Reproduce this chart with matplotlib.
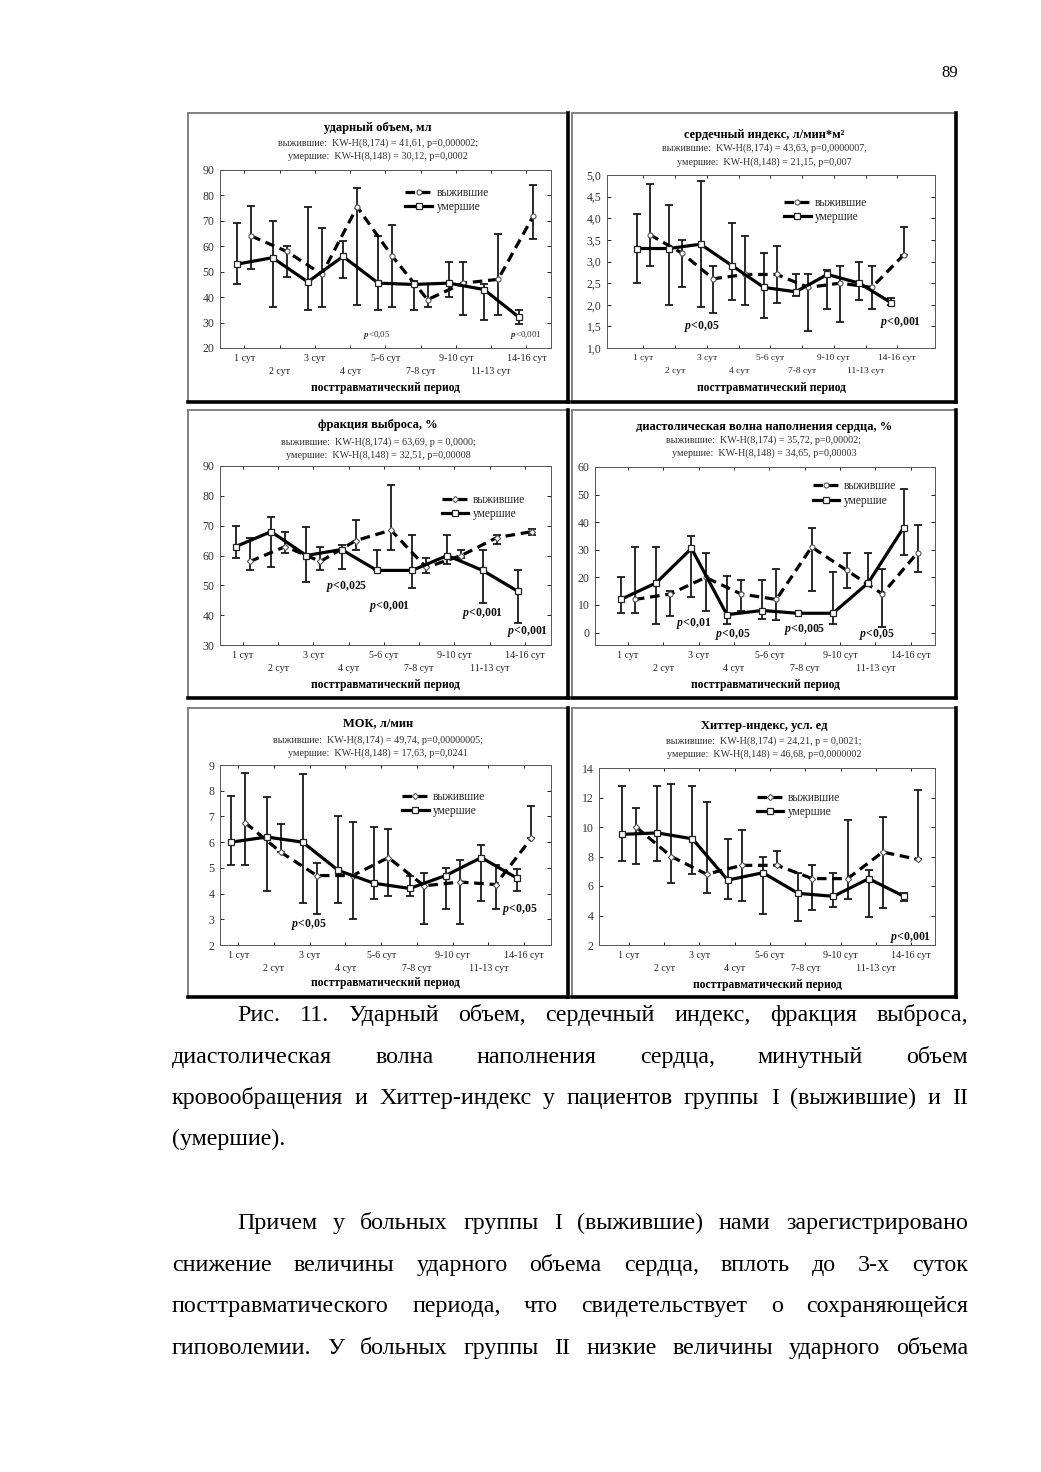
import numpy as np
import matplotlib
matplotlib.use('Agg')
import matplotlib.pyplot as plt
from matplotlib.patches import Rectangle
from matplotlib.lines import Line2D
from matplotlib.ticker import FuncFormatter

plt.rcParams['font.family'] = ['Liberation Serif', 'DejaVu Serif']
plt.rcParams['mathtext.fontset'] = 'custom'
plt.rcParams['mathtext.it'] = 'Liberation Serif:italic:bold'
plt.rcParams['mathtext.rm'] = 'Liberation Serif'

W, H = 1041, 1472

periods = ['1 сут', '2 сут', '3 сут', '4 сут', '5-6 сут', '7-8 сут',
           '9-10 сут', '11-13 сут', '14-16 сут']

# ударный объем, мл
uo_surv = [64, 58, 49, 75.5, 56, 39, 45.5, 47, 72]
uo_surv_lo = [51, 48, 36, 37, 36, 36, 33, 33, 63]
uo_surv_hi = [76, 60, 67, 83, 68.5, 45, 54, 65, 84]
uo_dead = [53, 55.5, 46, 56, 45.5, 45, 45.5, 43, 32]
uo_dead_lo = [45, 36, 35, 47.5, 35, 35, 40, 31, 29.5]
uo_dead_hi = [69, 70, 75.5, 62, 64, 46.5, 54, 45, 35]

# сердечный индекс
si_surv = [3.62, 3.2, 2.6, 2.7, 2.7, 2.4, 2.5, 2.4, 3.15]
si_surv_lo = [2.9, 2.4, 1.8, 2.0, 2.05, 1.4, 1.6, 1.9, 3.15]
si_surv_hi = [4.8, 3.5, 2.9, 3.6, 3.35, 2.7, 2.9, 2.9, 3.8]
si_dead = [3.3, 3.3, 3.4, 2.9, 2.4, 2.3, 2.7, 2.5, 2.05]
si_dead_lo = [2.5, 2.0, 1.95, 2.1, 1.7, 2.2, 1.9, 2.1, 2.0]
si_dead_hi = [4.1, 4.3, 4.85, 3.9, 3.2, 2.7, 2.8, 3.0, 2.15]

# фракция выброса
fv_surv = [58, 63, 58, 65, 68.5, 56, 60, 66, 68]
fv_surv_lo = [55, 61, 55, 62, 62, 54, 59, 64, 67]
fv_surv_hi = [66, 68, 63, 72, 83.5, 59, 62, 67, 69]
fv_dead = [63, 68, 60, 62, 55, 55, 60, 55, 48]
fv_dead_lo = [59, 56, 51, 55.5, 55, 49, 57, 44, 37.5]
fv_dead_hi = [70, 73, 69.5, 63.5, 62, 67, 67, 62, 55]

# диастолическая волна наполнения
dv_surv = [12, 14, 20, 14, 12, 31, 22.5, 14, 29]
dv_surv_lo = [7, 6, 8, 8, 4.5, 15, 16, 2, 22]
dv_surv_hi = [31, 15, 29, 19, 23, 38, 29, 23, 39]
dv_dead = [12, 18, 30.5, 6.5, 8, 7, 7, 18, 38]
dv_dead_lo = [7, 3, 13, 3, 5, 7, 3, 18, 28]
dv_dead_hi = [20, 31, 35, 20.5, 19, 7, 22, 29, 52]

# МОК
mok_surv = [6.75, 5.6, 4.7, 4.7, 5.4, 4.3, 4.45, 4.35, 6.15]
mok_surv_lo = [5.1, 5.6, 3.2, 3.0, 3.9, 2.8, 2.8, 3.4, 6.15]
mok_surv_hi = [8.7, 6.7, 5.2, 6.8, 6.5, 4.8, 5.3, 5.1, 7.4]
mok_dead = [6.0, 6.2, 6.0, 4.9, 4.4, 4.2, 4.7, 5.4, 4.6]
mok_dead_lo = [5.1, 4.1, 3.65, 3.65, 3.8, 3.9, 3.4, 3.7, 4.1]
mok_dead_hi = [7.8, 7.75, 8.65, 7.0, 6.6, 4.7, 5.0, 5.9, 4.95]

# Хиттер-индекс
hi_surv = [10.0, 8.0, 6.8, 7.4, 7.4, 6.5, 6.5, 8.3, 7.8]
hi_surv_lo = [7.5, 6.2, 5.5, 5.0, 7.4, 4.4, 5.1, 4.5, 7.8]
hi_surv_hi = [11.3, 12.9, 11.7, 9.8, 8.4, 7.4, 10.5, 10.7, 12.5]
hi_dead = [9.5, 9.6, 9.2, 6.4, 6.9, 5.5, 5.3, 6.5, 5.3]
hi_dead_lo = [7.7, 7.7, 6.8, 5.1, 4.1, 3.6, 4.6, 3.9, 5.0]
hi_dead_hi = [12.8, 12.8, 12.8, 9.2, 8.0, 6.9, 6.9, 7.1, 5.5]

titles = ['ударный объем, мл', 'сердечный индекс, л/мин*м²', 'фракция выброса, %',
          'диастолическая волна наполнения сердца, %', 'МОК, л/мин', 'Хиттер-индекс, усл. ед']
kw_surv = ['выжившие:  KW-H(8,174) = 41,61, p=0,000002;',
           'выжившие:  KW-H(8,174) = 43,63, p=0,0000007,',
           'выжившие:  KW-H(8,174) = 63,69, p = 0,0000;',
           'выжившие:  KW-H(8,174) = 35,72, p=0,00002;',
           'выжившие:  KW-H(8,174) = 49,74, p=0,00000005;',
           'выжившие:  KW-H(8,174) = 24,21, p = 0,0021;']
kw_dead = ['умершие:  KW-H(8,148) = 30,12, p=0,0002',
           'умершие:  KW-H(8,148) = 21,15, p=0,007',
           'умершие:  KW-H(8,148) = 32,51, p=0,00008',
           'умершие:  KW-H(8,148) = 34,65, p=0,00003',
           'умершие:  KW-H(8,148) = 17,63, p=0,0241',
           'умершие:  KW-H(8,148) = 46,68, p=0,0000002']

fig = plt.figure(figsize=(W / 100, H / 100), dpi=100)
fig.patch.set_facecolor('white')


def fx(x):
    return x / W


def fy(y):
    return 1 - y / H


panels = [
    dict(s=(uo_surv, uo_surv_lo, uo_surv_hi), d=(uo_dead, uo_dead_lo, uo_dead_hi),
         box=(188, 113, 568, 402), ax=(220, 170, 551, 348), xl=(-0.69, 8.7), yl=(20, 90), yt=np.arange(20, 91, 10),
         ty=(128, 143, 156), xly=388, mk='o', leg=(0.56, 0.905),
         notes=[(3.75, 25, 'p<0,05'), (8.0, 25, 'p<0,001')], nbold=False),
    dict(s=(si_surv, si_surv_lo, si_surv_hi), d=(si_dead, si_dead_lo, si_dead_hi),
         box=(572, 113, 956, 402), ax=(607, 175, 935, 348), xl=(-1.15, 9.19), yl=(1, 5), yt=np.arange(1, 5.01, 0.5),
         ty=(135, 148, 162), xly=388, mk='o', leg=(0.54, 0.875),
         notes=[(1.85, 1.5, 'p<0,05'), (8.1, 1.6, 'p<0,001')], nbold=True),
    dict(s=(fv_surv, fv_surv_lo, fv_surv_hi), d=(fv_dead, fv_dead_lo, fv_dead_hi),
         box=(188, 410, 568, 698), ax=(220, 466, 551, 645), xl=(-0.65, 8.74), yl=(30, 90), yt=np.arange(30, 91, 10),
         ty=(425, 442, 455), xly=685, mk='D', leg=(0.67, 0.845),
         notes=[(2.94, 49.5, 'p<0,025'), (4.16, 42.8, 'p<0,001'), (6.8, 40.6, 'p<0,001'),
                (8.08, 34.5, 'p<0,001')], nbold=True),
    dict(s=(dv_surv, dv_surv_lo, dv_surv_hi), d=(dv_dead, dv_dead_lo, dv_dead_hi),
         box=(572, 410, 956, 698), ax=(595, 467, 935, 645), xl=(-0.93, 8.69), yl=(-4.5, 60), yt=np.arange(0, 61, 10),
         ty=(427, 440, 453), xly=685, mk='o', leg=(0.64, 0.925),
         notes=[(1.85, 3.4, 'p<0,01'), (2.98, -0.8, 'p<0,05'), (5.0, 1.2, 'p<0,005'),
                (7.04, -0.8, 'p<0,05')], nbold=True),
    dict(s=(mok_surv, mok_surv_lo, mok_surv_hi), d=(mok_dead, mok_dead_lo, mok_dead_hi),
         box=(188, 708, 568, 997), ax=(220, 765, 551, 945), xl=(-0.51, 8.75), yl=(2, 9), yt=np.arange(2, 10, 1),
         ty=(723, 740, 753), xly=983, mk='D', leg=(0.55, 0.855),
         notes=[(1.96, 2.8, 'p<0,05'), (7.87, 3.39, 'p<0,05')], nbold=True),
    dict(s=(hi_surv, hi_surv_lo, hi_surv_hi), d=(hi_dead, hi_dead_lo, hi_dead_hi),
         box=(572, 708, 956, 997), ax=(599, 768, 935, 945), xl=(-0.85, 8.68), yl=(2, 14), yt=np.arange(2, 15, 2),
         ty=(726, 741, 754), xly=985, mk='D', leg=(0.47, 0.865),
         notes=[(8.0, 2.5, 'p<0,001')], nbold=True),
]

x = np.arange(len(periods))
txt = '#222222'

for i, p in enumerate(panels):
    bx0, by0, bx1, by1 = p['box']
    fig.add_artist(Rectangle((fx(bx0), fy(by1)), fx(bx1 - bx0), (by1 - by0) / H,
                             transform=fig.transFigure, fill=False, ec='#777777', lw=1.3))
    fig.add_artist(Line2D([fx(bx1), fx(bx1)], [fy(by0), fy(by1)], transform=fig.transFigure, color='k', lw=2.6))
    fig.add_artist(Line2D([fx(bx0), fx(bx1)], [fy(by1), fy(by1)], transform=fig.transFigure, color='k', lw=2.6))

    ax0, ay0, ax1, ay1 = p['ax']
    ax = fig.add_axes([fx(ax0), fy(ay1), fx(ax1 - ax0), (ay1 - ay0) / H])
    sv, slo, shi = [np.array(a, float) for a in p['s']]
    dv, dlo, dhi = [np.array(a, float) for a in p['d']]

    ax.errorbar(x - 0.2, dv, yerr=[dv - dlo, dhi - dv], fmt='none', ecolor='#1a1a1a',
                elinewidth=1.3, capsize=3, capthick=1.3, zorder=2)
    ax.errorbar(x + 0.2, sv, yerr=[sv - slo, shi - sv], fmt='none', ecolor='#1a1a1a',
                elinewidth=1.3, capsize=3, capthick=1.3, zorder=2)
    hs, = ax.plot(x + 0.2, sv, ls=(0, (3, 1.8)), lw=2.3, color='k', marker=p['mk'],
                  ms=3.6 if p['mk'] == 'o' else 3.2, mfc='white', mec='#555555', mew=0.8, zorder=3)
    hd, = ax.plot(x - 0.2, dv, '-', lw=2.3, color='k', marker='s', ms=5,
                  mfc='white', mec='#222222', mew=0.9, zorder=4)

    ax.set_xlim(*p['xl'])
    ax.set_ylim(*p['yl'])
    ax.set_yticks(p['yt'])
    if i == 1:
        ax.yaxis.set_major_formatter(FuncFormatter(lambda v, _: f'{v:.1f}'.replace('.', ',')))
    xs = 6.8 if i == 1 else 7.2
    ax.set_xticks(x[::2])
    ax.set_xticklabels(periods[::2], fontsize=xs, color=txt)
    ax.set_xticks(x[1::2], minor=True)
    ax.set_xticklabels(periods[1::2], minor=True, fontsize=xs, color=txt)
    ax.tick_params(axis='y', labelsize=8.5, labelcolor='#333333', direction='in', length=3,
                   right=True, width=0.6, pad=4)
    ax.tick_params(axis='x', which='major', direction='in', length=2.5, top=True, width=0.6, pad=4)
    ax.tick_params(axis='x', which='minor', direction='in', length=2.5, top=True, width=0.6, pad=14)
    for s in ax.spines.values():
        s.set_linewidth(0.7)
        s.set_color('#555555')

    ax.legend([hs, hd], ['выжившие', 'умершие'], loc='upper left', bbox_to_anchor=p['leg'],
              frameon=False, fontsize=8.3, handlelength=2.3, handletextpad=0.4,
              labelspacing=0.2, borderaxespad=0, borderpad=0, labelcolor=txt)

    for nx, ny, s in p['notes']:
        label = '$p$' + s[1:]
        if p['nbold']:
            ax.text(nx, ny, label, ha='center', va='center', fontsize=8.5, fontweight='bold', color='#111111')
        else:
            ax.text(nx, ny, label, ha='center', va='center', fontsize=6.5, color='#333333')

    cx = fx((bx0 + bx1) / 2)
    fig.text(cx, fy(p['ty'][0]), titles[i], ha='center', va='center', fontsize=9, fontweight='bold')
    fig.text(cx, fy(p['ty'][1]), kw_surv[i], ha='center', va='center', fontsize=7.3, color='#333333')
    fig.text(cx, fy(p['ty'][2]), kw_dead[i], ha='center', va='center', fontsize=7.3, color='#333333')
    fig.text(fx((ax0 + ax1) / 2), fy(p['xly']), 'посттравматический период', ha='center', va='center',
             fontsize=8.3, fontweight='bold')

# page number
fig.text(fx(950), fy(73), '89', ha='center', va='center', fontsize=12)

# caption and body text, justified
renderer = fig.canvas.get_renderer()
body_size = 17.3
lines = [
    ('Рис. 11. Ударный объем, сердечный индекс, фракция выброса,', 237, 968, 1021, True),
    ('диастолическая волна наполнения сердца, минутный объем', 172, 968, 1063, True),
    ('кровообращения и Хиттер-индекс у пациентов группы I (выжившие) и II', 172, 968, 1104, True),
    ('(умершие).', 172, 968, 1145, False),
    ('Причем у больных группы I (выжившие) нами зарегистрировано', 237, 968, 1229, True),
    ('снижение величины ударного объема сердца, вплоть до 3-х суток', 172, 968, 1271, True),
    ('посттравматического периода, что свидетельствует о сохраняющейся', 172, 968, 1312, True),
    ('гиповолемии. У больных группы II низкие величины ударного объема', 172, 968, 1354, True),
]
for line, x0, x1, yb, just in lines:
    if not just:
        fig.text(fx(x0), fy(yb), line, ha='left', va='baseline', fontsize=body_size)
        continue
    words = line.split()
    texts = [fig.text(0, fy(yb), w, ha='left', va='baseline', fontsize=body_size) for w in words]
    widths = [t.get_window_extent(renderer).width for t in texts]
    gap = (x1 - x0 - sum(widths)) / (len(words) - 1)
    pos = x0
    for t, w in zip(texts, widths):
        t.set_x(fx(pos))
        pos += w + gap

fig.savefig('out.png', dpi=100, facecolor='white')
